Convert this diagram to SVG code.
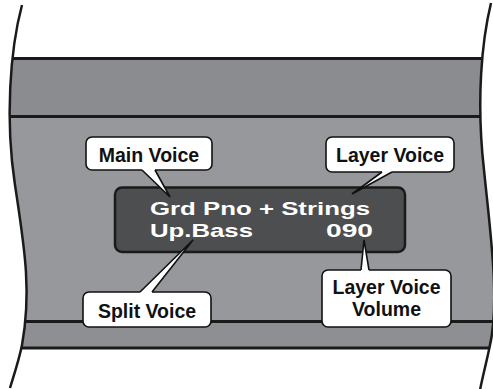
<svg xmlns="http://www.w3.org/2000/svg" width="493" height="389" viewBox="0 0 493 389">
<style>
.lbl{font-family:"Liberation Sans",Arial,sans-serif;font-weight:bold;font-size:19.5px;fill:#111;text-anchor:middle}
.lcd{font-family:"Liberation Sans",Arial,sans-serif;font-weight:bold;font-size:18.5px;fill:#fff}
.box{fill:#fff;stroke:#111;stroke-width:1.6}
.tailf{fill:#fff;stroke:none}
.tails{fill:none;stroke:#111;stroke-width:1.6;stroke-linejoin:miter}
.edge{stroke:#1a1a1a;stroke-width:3;fill:none}
</style>
<defs>
<clipPath id="panelClip">
<path d="M22,5 C10,50 5,120 15,185 C24,245 32,290 22,345 C19,360 14,375 10,388 L480,390 C483,375 487,360 490,345 C500,300 490,230 484,170 C476,100 482,40 491,3 Z"/>
</clipPath>
</defs>
<rect width="493" height="389" fill="#fff"/>
<g id="panel" clip-path="url(#panelClip)">
<rect x="0" y="58" width="493" height="59" fill="#8b8c8f"/>
<rect x="0" y="117" width="493" height="204" fill="#97989b"/>
<rect x="0" y="321" width="493" height="27" fill="#8e8f92"/>
<line x1="0" y1="58.5" x2="493" y2="58.5" class="edge"/>
<line x1="0" y1="116.5" x2="493" y2="116.5" class="edge"/>
<line x1="0" y1="321.5" x2="493" y2="321.5" class="edge"/>
<line x1="0" y1="348" x2="493" y2="348" class="edge"/>
</g>
<path d="M22,5 C10,50 5,120 15,185 C24,245 32,290 22,345 C19,360 14,375 10,388" fill="none" stroke="#1a1a1a" stroke-width="2.5"/>
<path d="M491,3 C482,40 476,100 484,170 C490,230 500,300 490,345 C487,360 483,375 480,390" fill="none" stroke="#1a1a1a" stroke-width="2.5"/>
<g id="display">
<rect x="115" y="187.5" width="290" height="64.5" rx="7" fill="#4d4e50" stroke="#1a1a1a" stroke-width="2.5"/>
<text class="lcd" x="150" y="215" textLength="220" lengthAdjust="spacingAndGlyphs">Grd Pno + Strings</text>
<text class="lcd" x="150" y="237" textLength="103" lengthAdjust="spacingAndGlyphs">Up.Bass</text>
<text class="lcd" x="326" y="237" textLength="47" lengthAdjust="spacingAndGlyphs">090</text>
</g>
<g id="main-voice">
<rect class="box" x="86" y="137" width="126" height="33" rx="6"/>
<text class="lbl" x="149" y="162">Main Voice</text>
</g>
<g id="layer-voice">
<rect class="box" x="326" y="137" width="128" height="35" rx="6"/>
<text class="lbl" x="390" y="162">Layer Voice</text>
</g>
<g id="split-voice">
<rect class="box" x="83" y="292" width="128" height="35" rx="6"/>
<text class="lbl" x="147" y="318">Split Voice</text>
</g>
<g id="layer-voice-volume">
<rect class="box" x="322" y="270" width="129" height="57" rx="6"/>
<text class="lbl" x="386.5" y="294">Layer Voice</text>
<text class="lbl" x="386.5" y="316">Volume</text>
</g>
<g id="connectors">
<polygon class="tailf" points="142,168 155,168 155,170 170,197 142,170"/>
<polyline class="tails" points="142,170 170,197 155,170"/>
<polygon class="tailf" points="382,170 392,170 392,172 352,194 382,172"/>
<polyline class="tails" points="392,172 352,194 382,172"/>
<polygon class="tailf" points="140,294 152,294 152,292 193,240 140,292"/>
<polyline class="tails" points="140,292 193,240 152,292"/>
<polygon class="tailf" points="361,272 369,272 369,270 364,240 361,270"/>
<polyline class="tails" points="361,270 364,240 369,270"/>
</g>
</svg>
